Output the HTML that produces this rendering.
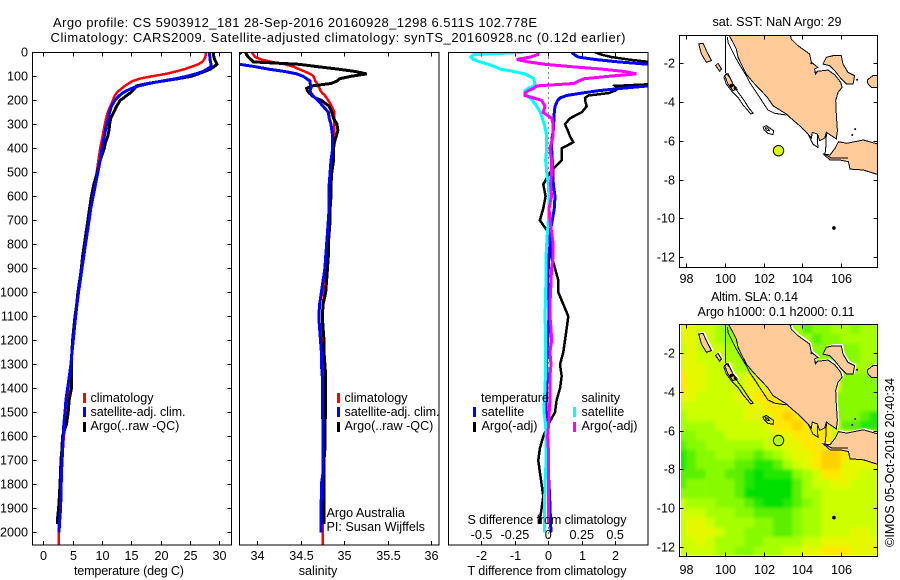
<!DOCTYPE html>
<html lang="en">
<head>
<meta charset="utf-8">
<title>Argo profile CS 5903912_181</title>
<style>
html,body{margin:0;padding:0;background:#fff;width:900px;height:580px;overflow:hidden}
svg{display:block}
text{font-family:"Liberation Sans",sans-serif;font-size:12.6px;fill:#000}
text.big{font-size:13px}
</style>
</head>
<body>
<svg id="figure" xmlns="http://www.w3.org/2000/svg" width="900" height="580" viewBox="0 0 900 580">
  <defs>
    <clipPath id="clip-temp"><rect x="32.5" y="52.5" width="199" height="492.5"/></clipPath>
    <clipPath id="clip-sal"><rect x="239.5" y="52.5" width="199.5" height="492.5"/></clipPath>
    <clipPath id="clip-diff"><rect x="448.5" y="52.5" width="199.5" height="492.5"/></clipPath>
    <clipPath id="clip-sst"><rect x="679.5" y="35.5" width="198" height="232"/></clipPath>
    <clipPath id="clip-sla"><rect x="679.5" y="324.5" width="198" height="232"/></clipPath>
    <clipPath id="clip-sla-field"><rect x="681" y="325" width="196.5" height="230.5"/></clipPath>
    <filter id="field-blur" filterUnits="userSpaceOnUse" x="640" y="290" width="260" height="290"><feGaussianBlur stdDeviation="1.6"/></filter>
  </defs>
  <g id="layer-panels"></g>
  <g id="layer-text">
    <text class="big" x="53" y="27" textLength="484">Argo profile: CS 5903912_181 28-Sep-2016 20160928_1298 6.511S 102.778E</text>
    <text class="big" x="50.5" y="42" textLength="575">Climatology: CARS2009. Satellite-adjusted climatology: synTS_20160928.nc (0.12d earlier)</text>
    <text x="74" y="575" textLength="110">temperature (deg C)</text>
    <text x="318" y="575" text-anchor="middle">salinity</text>
    <text x="467.5" y="575" textLength="159">T difference from climatology</text>
    <text x="467.5" y="524" textLength="159">S difference from climatology</text>
    <text x="90.5" y="402">climatology</text>
    <text x="90.5" y="416" textLength="95">satellite-adj. clim.</text>
    <text x="90.5" y="430">Argo(..raw -QC)</text>
    <text x="344.5" y="402">climatology</text>
    <text x="344.5" y="416" textLength="95">satellite-adj. clim.</text>
    <text x="344.5" y="430">Argo(..raw -QC)</text>
    <text x="326.5" y="517">Argo Australia</text>
    <text x="326.5" y="531">PI: Susan Wijffels</text>
    <text x="481" y="402">temperature</text>
    <text x="481.5" y="416">satellite</text>
    <text x="481.5" y="430">Argo(-adj)</text>
    <text x="581.5" y="402">salinity</text>
    <text x="581.5" y="416">satellite</text>
    <text x="581.5" y="430">Argo(-adj)</text>
    <text x="712.5" y="26" textLength="129">sat. SST: NaN Argo: 29</text>
    <text x="711" y="301" textLength="87">Altim. SLA: 0.14</text>
    <text x="697.5" y="316" textLength="157">Argo h1000: 0.1 h2000: 0.11</text>
    <text transform="translate(894 547) rotate(-90)" textLength="169">©IMOS 05-Oct-2016 20:40:34</text>
  </g>
</svg>
<script>
/* ---------- profile data ---------- */
const depths=[0,10,20,30,40,50,60,70,80,90,100,110,120,130,140,150,160,170,180,190,200,
225,250,275,300,325,350,375,400,
450,500,550,600,650,700,750,800,850,900,950,1000,1050,1100,1150,1200,1250,1300,1350,1400,1450,1500,1550,1600,1650,1700,1750,1800,1850,1900,1950,
1965,2000,2054];

const tempClim=[27.7,27.7,27.6,27.4,27.1,26.4,25.3,24.1,22.6,20.9,18.5,16.4,15.2,14.5,13.9,13.4,12.9,12.5,12.2,12.0,11.9,
11.4,11.0,10.7,10.5,10.3,10.1,9.9,9.7,
9.4,9.1,8.8,8.4,8.1,7.8,7.5,7.2,6.9,6.6,6.3,6.0,5.75,5.5,5.3,5.1,4.9,4.7,4.5,4.3,4.1,3.9,3.7,3.5,3.35,3.2,3.1,3.0,2.9,2.8,2.7,
2.68,2.62,2.6];
const tempSat=[28.3,28.3,28.4,28.4,28.5,28.6,28.6,27.9,27.2,26,24.4,22.6,20.2,18,16.3,15.1,14.2,13.5,13,12.6,12.2,
11.6,11.3,11.1,10.8,10.6,10.4,10.2,10.0,
9.7,9.3,8.9,8.5,8.1,7.8,7.5,7.2,6.9,6.6,6.3,6.0,5.75,5.5,5.3,5.1,4.9,4.7,4.43,4.15,3.86,3.7,3.5,3.4,3.3,3.2,3.1,3.05,3.0,2.95,2.8,
2.75,2.7,null];
const tempArgo=[29.0,29.0,29.1,29.2,29.4,29.6,29.1,28.5,27.5,26.4,25.2,23,20.3,17.8,15.9,15.6,15.2,14.8,14.2,13.7,13.1,
12.5,12.0,11.5,11.3,11.2,11.0,10.6,10.4,
9.7,9.2,8.6,8.2,7.9,7.6,7.3,7.0,6.7,6.5,6.2,5.9,5.7,5.4,5.2,5.0,4.85,4.8,4.8,4.8,4.4,4.25,3.95,3.25,3.2,3.0,2.95,2.85,2.75,2.6,2.4,
2.4,null,null];

const salClim=[33.94,33.96,33.98,34.05,34.17,34.32,34.42,34.48,34.55,34.61,34.65,34.66,34.67,34.69,34.70,34.72,34.73,34.75,34.78,34.80,34.82,
34.86,34.89,34.89,34.89,34.89,34.89,34.88,34.88,
34.86,34.85,34.83,34.83,34.83,34.83,34.82,34.81,34.80,34.79,34.78,34.77,34.76,34.75,34.75,34.75,34.75,34.76,34.77,34.77,34.77,34.77,34.77,34.77,34.765,34.76,34.76,34.76,34.755,34.755,34.755,
34.755,34.755,34.755];
const salSat=[33.82,33.78,33.75,33.75,33.76,33.8,33.98,34.13,34.32,34.46,34.53,34.57,34.61,34.61,34.62,34.62,34.61,34.62,34.64,34.67,34.7,
34.76,34.82,34.83,34.85,34.86,34.87,34.87,34.87,
34.85,34.84,34.83,34.83,34.83,34.82,34.81,34.80,34.79,34.78,34.76,34.74,34.72,34.71,34.72,34.73,34.74,34.74,34.75,34.75,34.75,34.75,34.76,34.76,34.76,34.76,34.76,34.74,34.74,34.735,34.735,
34.735,34.735,null];
const salArgo=[33.87,33.88,33.9,33.93,33.96,34.48,34.7,34.93,35.13,35.26,35.08,34.95,34.92,34.85,34.63,34.57,34.58,34.6,34.63,34.67,34.74,
34.83,34.86,34.88,34.92,34.93,34.91,34.89,34.88,
34.88,34.86,34.85,34.85,34.84,34.84,34.83,34.82,34.82,34.81,34.80,34.79,34.76,34.75,34.76,34.77,34.77,34.78,34.79,34.79,34.79,34.79,34.78,34.78,34.78,34.77,34.77,34.77,34.77,34.77,34.77,
34.77,null,null];

const dtSat=[0.7,0.78,0.9,1.4,2.1,3.0,3.8,4,4,4,4,4,3.9,3.4,3.0,2.2,1.5,1.0,0.55,0.35,0.28,
0.2,0.18,0.17,0.16,0.15,0.12,0.1,0.1,
0.12,0.14,0.15,0.2,0.18,0.12,0.05,0.05,0.02,0,-0.02,0,0.02,0.02,0,-0.02,-0.04,-0.05,-0.04,-0.05,-0.06,-0.07,-0.06,-0.05,-0.03,-0.02,0,0.02,0.04,0.05,0.07,
0.07,0.08,null];
const dtArgo=[1.4,1.6,1.9,2.4,3.0,3.6,4,4,4,4,4,4,4,3.5,2.0,2.1,2.0,1.8,1.2,1.1,1.1,
1.15,1.0,0.65,0.5,0.58,0.65,0.75,0.4,
0.4,0.05,-0.15,-0.08,-0.15,-0.25,0,0.1,0.1,0.2,0.3,0.3,0.45,0.6,0.55,0.5,0.45,0.35,0.4,0.35,0.25,0.2,0,-0.15,-0.25,-0.3,-0.25,-0.2,-0.15,-0.2,-0.25,
-0.25,null,null];
const dsSat=[-0.19,-0.56,-0.58,-0.56,-0.51,-0.45,-0.4,-0.36,-0.26,-0.175,-0.14,-0.11,-0.105,-0.1,-0.11,-0.15,-0.175,-0.175,-0.16,-0.14,-0.12,
-0.087,-0.06,-0.045,-0.03,-0.02,-0.012,-0.012,-0.012,
-0.02,-0.012,0,0.005,0.005,0,-0.007,-0.012,-0.017,-0.017,-0.017,-0.02,-0.022,-0.025,-0.022,-0.02,-0.02,-0.02,-0.022,-0.025,-0.03,-0.032,-0.02,-0.017,-0.017,-0.017,-0.02,-0.025,-0.027,-0.027,-0.027,
-0.027,-0.027,null];
const dsArgo=[-0.075,-0.08,-0.137,-0.237,-0.15,-0.025,0.175,0.4,0.57,0.66,0.45,0.27,0.225,0.19,-0.087,-0.11,-0.15,-0.175,-0.175,-0.11,-0.05,
-0.025,-0.04,0.025,0.037,0.037,0.037,0.025,0.012,
0.025,0.025,0.017,0.025,0.005,0.012,0.025,0.037,0.037,0.025,0.02,0.017,0.012,0.012,0.02,0.025,0.012,0.02,0.012,0.012,0.012,0.007,0.002,-0.005,0,0,0,0,0,0,0,
0,null,null];

/* ---------- tick labels ---------- */
const depthTicks=[0,100,200,300,400,500,600,700,800,900,1000,1100,1200,1300,1400,1500,1600,1700,1800,1900,2000];
const tempTicks=[0,5,10,15,20,25,30];
const salTicks=[34,34.5,35,35.5,36];
const dtTicks=[-2,-1,0,1,2];
const dsTicks=[-0.5,-0.25,0,0.25,0.5];
const mapLonTicks=[98,100,102,104,106];
const mapLatTicks=[-2,-4,-6,-8,-10,-12];

/* ---------- map data ---------- */
const argoLon=102.778;
const argoLat=-6.511;
const slaLons=[97.75,98.25,98.75,99.25,99.75,100.25,100.75,101.25,101.75,102.25,102.75,103.25,103.75,104.25,104.75,105.25,105.75,106.25,106.75,107.25,107.75];
const slaLats=[-0.75,-1.25,-1.75,-2.25,-2.75,-3.25,-3.75,-4.25,-4.75,-5.25,-5.75,-6.25,-6.75,-7.25,-7.75,-8.25,-8.75,-9.25,-9.75,-10.25,-10.75,-11.25,-11.75,-12.25];
const slaLevels=[
[7,7,6,6,5,4,5,5,5,5,5,5,5,3,4,4,5,5,4,5,5],
[7,7,6,6,5,4,5,5,5,5,5,5,5,5,3,4,4,5,5,5,5],
[6,7,6,6,6,5,5,5,5,5,5,5,5,5,4,4,4,4,4,5,5],
[7,7,6,6,6,5,5,5,5,5,5,5,5,5,4,4,4,4,4,5,5],
[7,7,7,6,6,6,5,5,5,5,5,5,5,5,4,4,4,5,5,5,5],
[8,7,7,6,6,6,6,7,7,7,7,7,7,7,7,7,7,4,4,4,4],
[8,7,7,6,6,6,6,7,7,7,7,7,7,7,7,7,7,4,4,4,4],
[7,7,6,6,6,6,7,7,8,8,8,8,8,8,8,7,4,4,4,4,4],
[6,6,6,6,6,6,6,7,7,8,8,8,8,8,8,7,4,4,4,4,4],
[5,6,6,6,6,6,6,7,7,7,8,9,8,8,8,7,4,4,4,3,2],
[5,5,5,5,6,6,6,6,6,7,8,8,9,8,8,8,6,3,3,2,2],
[4,4,5,5,5,6,6,6,6,6,7,7,8,8,8,8,6,6,6,6,6],
[3,4,4,5,5,5,5,5,5,6,6,7,7,8,8,8,8,7,7,7,7],
[2,3,4,4,5,5,4,4,3,4,5,6,7,7,8,9,9,8,7,7,7],
[2,3,4,4,4,4,3,3,2,2,3,5,6,7,8,9,9,7,7,7,7],
[3,3,3,4,4,3,3,2,1,2,2,2,4,5,6,8,8,7,7,6,6],
[3,4,4,4,4,4,3,2,1,1,1,1,3,5,6,6,7,7,6,6,6],
[4,4,4,4,4,4,3,1,1,1,1,1,3,5,5,6,6,6,6,6,6],
[6,5,5,5,4,4,4,3,2,1,1,2,3,4,5,6,6,6,6,6,6],
[6,6,6,5,5,5,4,4,3,3,3,3,4,5,5,6,6,6,6,6,6],
[6,7,7,6,5,5,5,5,4,4,3,3,4,5,5,6,6,6,6,6,6],
[6,7,7,7,6,5,5,4,4,4,3,3,4,5,5,6,6,6,7,7,6],
[6,6,7,6,5,5,5,4,4,5,5,5,5,6,6,7,7,7,7,7,7],
[6,6,6,6,5,5,4,4,5,5,5,6,6,7,7,8,8,8,7,7,7]
];
const slaPalette=["#00e000","#22e800","#5cf000","#88fa00","#a6ff00","#ccff00","#e6f800","#ffe800","#ffd000"];

const coastSumatra=[[100.13,-0.4],[100.42,-0.92],[100.59,-1.26],[100.68,-1.69],[100.89,-2.12],[101.11,-2.55],[101.46,-2.98],[101.80,-3.33],[102.20,-3.76],[102.49,-4.19],[103.18,-4.62],[103.53,-4.93],[103.87,-5.22],[104.22,-5.56],[104.48,-5.86],[104.53,-5.56],[104.79,-5.65],[104.91,-5.99],[105.17,-5.86],[105.26,-5.56],[105.77,-5.91],[105.83,-5.48],[105.77,-4.62],[105.74,-3.93],[105.86,-3.50],[106.07,-3.24],[106.0,-2.98],[105.69,-2.59],[105.34,-2.35],[104.82,-2.41],[104.69,-2.55],[104.65,-2.29],[104.82,-2.21],[104.48,-1.95],[104.39,-1.52],[103.79,-1.09],[103.44,-0.75],[103.36,-0.4]];
const coastJava=[[105.88,-6.05],[106.31,-6.13],[107.17,-5.96],[108.1,-6.22],[108.1,-7.8],[107.17,-7.51],[106.48,-7.46],[106.4,-7.08],[105.96,-6.99],[105.45,-6.99],[105.1,-6.68],[105.45,-6.73],[105.71,-6.39]];
const coastBangka=[[105.08,-2.04],[105.26,-1.69],[105.6,-1.61],[106.03,-1.61],[106.12,-2.04],[106.38,-2.47],[106.72,-2.64],[106.64,-3.07],[106.29,-3.07],[106.03,-2.81],[105.69,-2.38],[105.43,-2.12]];
const coastBelitung=[[107.38,-2.86],[107.67,-2.64],[108.1,-2.64],[108.1,-3.24],[107.59,-3.24],[107.41,-3.07]];
const coastSiberut=[[98.64,-1.0],[98.87,-0.97],[99.04,-1.35],[99.3,-1.86],[99.04,-1.95],[98.78,-1.52]];
const coastSipura=[[99.52,-2.12],[99.64,-2.0],[99.82,-2.29],[99.73,-2.41]];
const coastPagai=[[99.99,-2.64],[100.16,-2.52],[100.42,-3.07],[100.64,-3.33],[100.42,-3.41],[100.16,-3.07]];
const contourMeridian=[[100.04,-0.4],[100.04,-2.5]];
const contourSumatra=[[100.13,-0.63],[100.16,-0.92],[100.33,-1.26],[100.59,-1.78],[100.85,-2.21],[101.11,-2.64],[101.28,-2.98],[101.63,-3.5],[101.97,-4.02],[102.23,-4.41],[102.58,-4.58],[103.18,-4.67]];
const contourMentawai=[[100.07,-2.52],[100.25,-2.72],[100.5,-3.24],[100.94,-3.84],[101.28,-4.36],[101.46,-4.57],[101.34,-4.62],[100.94,-4.14],[100.68,-3.76],[100.33,-3.41],[100.07,-3.07],[99.95,-2.72],[100.07,-2.52]];
const contourEnggano=[[101.97,-5.3],[102.15,-5.22],[102.53,-5.48],[102.49,-5.68],[102.23,-5.62],[102.03,-5.44],[101.97,-5.3]];
const contourEngganoInner=[[102.08,-5.32],[102.22,-5.35],[102.3,-5.48],[102.15,-5.45],[102.08,-5.32]];
const contourSunda=[[104.31,-5.65],[104.56,-6.17],[104.82,-6.34],[104.79,-5.74]];
const contourJava=[[105.26,-5.62],[105.22,-6.51],[105.17,-6.68],[105.51,-6.89],[106.38,-6.89]];
const blobLons=[104.48,104.74,100.33,100.5,105.65,106.85,103.4,106.75,106.6];
const blobLats=[-2.0,-2.47,-3.15,-3.3,-10.5,-2.85,-0.55,-5.4,-5.7];

/* ---------- axis functions ---------- */
const panelTop=52.5, panelBottom=545;
const depthY=d=>52.3+d*0.24;
const tempX=t=>43.3+t*5.867;
const salX=s=>257+(s-34)*87;
const dtX=t=>548.3+t*33.4;
const dsX=s=>548.3+s*133.6;
const mapLonX=lon=>686.3+(lon-98)*19.3;
const sstLatY=lat=>63.3+(-2-lat)*19.37;
const slaLatY=lat=>353.3+(-2-lat)*19.33;

const NS='http://www.w3.org/2000/svg';
const panels=document.getElementById('layer-panels');
function make(tag,parent,props){
  const n=document.createElementNS(NS,tag);
  for(const k in props){n.setAttribute(k,props[k]);}
  parent.appendChild(n);
  return n;
}
function group(parent,clip){
  const g=make('g',parent,clip?{'clip-path':'url(#'+clip+')'}:{});
  return g;
}
function drawProfile(parent,values,xFn,color,width,name){
  let d='';
  values.forEach((v,i)=>{
    if(v===null)return;
    d+=(d?'L':'M')+xFn(v).toFixed(1)+' '+depthY(depths[i]).toFixed(1);
  });
  const p=make('path',parent,{d:d,fill:'none',stroke:color,'stroke-width':width,'stroke-linejoin':'miter','shape-rendering':'crispEdges'});
  
  
}
function drawFrame(x0,y0,x1,y1,name){
  const r=make('rect',panels,{x:x0,y:y0,width:x1-x0,height:y1-y0,fill:'none',stroke:'#000','stroke-width':1,'shape-rendering':'crispEdges'});
  
  
}
function drawTick(parent,x1,y1,x2,y2){
  const t=make('line',parent,{x1:x1,y1:y1,x2:x2,y2:y2,stroke:'#000','stroke-width':1,'shape-rendering':'crispEdges'});
  
  
}
function drawLabel(parent,x,y,anchor,str){
  const t=make('text',parent,{x:x,y:y,'text-anchor':anchor});
  t.textContent=str;
  
  
}
function xTicks(parent,ticks,xFn,y0,y1,labelY,fmt){
  ticks.forEach(v=>{
    const x=Math.round(xFn(v))+0.5;
    drawTick(parent,x,y0,x,y0+4);
    drawTick(parent,x,y1,x,y1-4);
    if(labelY)drawLabel(parent,x,labelY,'middle',fmt?fmt(v):String(v));
  });
}
function legendBar(x,yc,color,name){
  const r=make('rect',panels,{x:x-1,y:yc-5,width:3,height:10,fill:color});
  
  
}

/* ---------- temperature panel ---------- */
const tempGroup=group(panels,'clip-temp');
drawProfile(tempGroup,tempClim,tempX,'#ff0000',2.5,'temperature-climatology-line');
drawProfile(tempGroup,tempArgo,tempX,'#000000',3,'temperature-argo-line');
drawProfile(tempGroup,tempSat,tempX,'#0000ff',3,'temperature-satellite-line');
drawFrame(32.5,52.5,231.5,545,'temperature-plot-frame');
const tempAxes=group(panels);
xTicks(tempAxes,tempTicks,tempX,52.5,545,560);
depthTicks.forEach(d=>{
  const y=Math.round(depthY(d))+0.5;
  drawTick(tempAxes,32.5,y,36.5,y);
  drawTick(tempAxes,231.5,y,227.5,y);
  drawLabel(tempAxes,28,y+4,'end',String(d));
});
legendBar(84,398,'#ff0000','legend-swatch-temp-climatology');
legendBar(84,412,'#0000ff','legend-swatch-temp-satellite');
legendBar(84,427,'#000000','legend-swatch-temp-argo');

/* ---------- salinity panel ---------- */
const salGroup=group(panels,'clip-sal');
drawProfile(salGroup,salClim,salX,'#ff0000',2.5,'salinity-climatology-line');
drawProfile(salGroup,salArgo,salX,'#000000',3,'salinity-argo-line');
drawProfile(salGroup,salSat,salX,'#0000ff',3,'salinity-satellite-line');
drawFrame(239.5,52.5,439,545,'salinity-plot-frame');
const salAxes=group(panels);
xTicks(salAxes,salTicks,salX,52.5,545,560);
legendBar(338,398,'#ff0000','legend-swatch-sal-climatology');
legendBar(338,412,'#0000ff','legend-swatch-sal-satellite');
legendBar(338,427,'#000000','legend-swatch-sal-argo');

/* ---------- difference panel ---------- */
const diffGroup=group(panels,'clip-diff');
const zeroLine=make('line',diffGroup,{x1:548.5,y1:52.5,x2:548.5,y2:545,stroke:'#000','stroke-width':1,'stroke-dasharray':'1 4','shape-rendering':'crispEdges'});


drawProfile(diffGroup,dtArgo,dtX,'#000000',2.5,'t-difference-argo-line');
drawProfile(diffGroup,dtSat,dtX,'#0000ff',3,'t-difference-satellite-line');
drawProfile(diffGroup,dsSat,dsX,'#00ffff',3,'s-difference-satellite-line');
drawProfile(diffGroup,dsArgo,dsX,'#ff00ff',3,'s-difference-argo-line');
drawFrame(448.5,52.5,648,545,'difference-plot-frame');
const diffAxes=group(panels);
xTicks(diffAxes,dtTicks,dtX,52.5,545,560);
dsTicks.forEach(v=>{drawLabel(diffAxes,dsX(v),539,'middle',String(v));});
legendBar(474,412,'#0000ff','legend-swatch-t-satellite');
legendBar(474,427,'#000000','legend-swatch-t-argo');
legendBar(574,412,'#00ffff','legend-swatch-s-satellite');
legendBar(574,427,'#ff00ff','legend-swatch-s-argo');

/* ---------- maps ---------- */
function pts(list,latFn){
  return list.map(p=>mapLonX(p[0]).toFixed(1)+','+latFn(p[1]).toFixed(1)).join(' ');
}
function landPoly(parent,list,latFn,name,halo){
  if(halo){
    const h=make('polygon',parent,{points:pts(list,latFn),fill:'none',stroke:'#fff','stroke-width':1.5,transform:'translate(1 -1)'});
    
    
  }
  const p=make('polygon',parent,{points:pts(list,latFn),fill:'#ffcc99',stroke:'#000','stroke-width':1,'shape-rendering':'crispEdges'});
  
  
}
function contour(parent,list,latFn,name){
  const p=make('polyline',parent,{points:pts(list,latFn),fill:'none',stroke:'#000','stroke-width':1,'shape-rendering':'crispEdges'});
  
  
}
function drawMap(latFn,clip,top,bottom,frameName,labelY,withHalo,argoFill){
  const g=group(panels,clip);
  landPoly(g,coastSumatra,latFn,'sumatra-land',withHalo);
  landPoly(g,coastJava,latFn,'java-land',withHalo);
  landPoly(g,coastBangka,latFn,'bangka-land',withHalo);
  landPoly(g,coastBelitung,latFn,'belitung-land',withHalo);
  landPoly(g,coastSiberut,latFn,'siberut-land',withHalo);
  landPoly(g,coastSipura,latFn,'sipura-land',withHalo);
  landPoly(g,coastPagai,latFn,'pagai-land',withHalo);
  contour(g,contourMeridian,latFn,'shelf-contour-north');
  contour(g,contourSumatra,latFn,'shelf-contour-sumatra');
  contour(g,contourMentawai,latFn,'shelf-contour-mentawai');
  contour(g,contourEnggano,latFn,'shelf-contour-enggano');
  contour(g,contourEngganoInner,latFn,'shelf-contour-enggano-inner');
  contour(g,contourSunda,latFn,'shelf-contour-sunda');
  contour(g,contourJava,latFn,'shelf-contour-java');
  blobLons.forEach((lon,i)=>{
    const big=blobLats[i]===-10.5||blobLats[i]===-3.15;
    const b=make('circle',g,{cx:mapLonX(lon),cy:latFn(blobLats[i]),r:big?1.8:1,fill:'#000'});
    
    
  });
  const a=make('circle',g,{cx:mapLonX(argoLon),cy:latFn(argoLat),r:5.2,fill:argoFill,stroke:'#000','stroke-width':1});
  
  
  drawFrame(679.5,top,877.5,bottom,frameName);
  const axes=group(panels);
  xTicks(axes,mapLonTicks,mapLonX,top,bottom,labelY);
  mapLatTicks.forEach(lat=>{
    const y=Math.round(latFn(lat))+0.5;
    drawTick(axes,679.5,y,683.5,y);
    drawTick(axes,877.5,y,873.5,y);
    drawLabel(axes,675,y+4,'end',String(lat));
  });
}
const slaClip=group(panels,'clip-sla-field');
const slaField=make('g',slaClip,{filter:'url(#field-blur)'});


slaLevels.forEach((row,r)=>{
  row.forEach((v,c)=>{
    let x0=mapLonX(slaLons[c]-0.25), x1=mapLonX(slaLons[c]+0.25);
    let y0=slaLatY(slaLats[r]+0.25), y1=slaLatY(slaLats[r]-0.25);
    if(c===0)x0-=20;
    if(c===row.length-1)x1+=20;
    if(r===0)y0-=20;
    if(r===slaLevels.length-1)y1+=20;
    const cell=make('rect',slaField,{x:x0.toFixed(1),y:y0.toFixed(1),width:(x1-x0+0.4).toFixed(1),height:(y1-y0+0.4).toFixed(1),fill:slaPalette[v-1]});
    
    
  });
});
drawMap(sstLatY,'clip-sst',35.5,267.5,'sst-map-frame',283,false,'#ddff00');
drawMap(slaLatY,'clip-sla',324.5,556.5,'sla-map-frame',574,true,'#b4ff00');
</script>
</body>
</html>
